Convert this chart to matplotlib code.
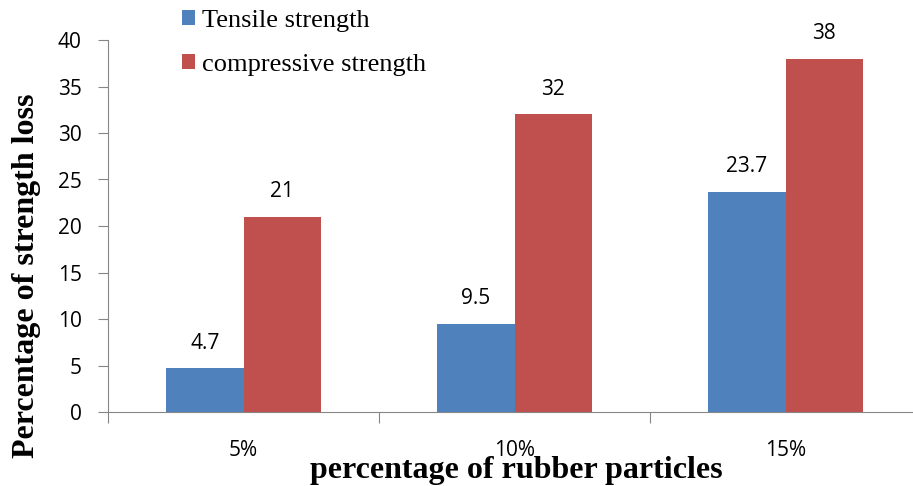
import numpy as np
import matplotlib.pyplot as plt

categories = ['5%', '10%', '15%']
tensile = [4.7, 9.5, 23.7]
compressive = [21, 32, 38]
yticks = [0, 5, 10, 15, 20, 25, 30, 35, 40]

blue, red, grey = '#4F81BD', '#C0504D', '#868686'
num_font = ['Open Sans', 'DejaVu Sans']
serif = ['Liberation Serif', 'DejaVu Serif']

fig = plt.figure(figsize=(9.13, 4.86), dpi=100)
ax = fig.add_axes([108 / 913, 74 / 486, 813 / 913, 372 / 486])

x = np.arange(len(categories))
w = 0.285
b1 = ax.bar(x - w / 2, tensile, w, color=blue, label='Tensile strength')
b2 = ax.bar(x + w / 2, compressive, w, color=red, label='compressive strength')

for bars, vals in ((b1, tensile), (b2, compressive)):
    for r, v in zip(bars, vals):
        ax.annotate(f'{v:g}', (r.get_x() + r.get_width() / 2, v), xytext=(0, 18),
                    textcoords='offset points', ha='center', va='center',
                    fontsize=15, family=num_font)

ax.set_xlim(-0.5, 2.5)
ax.set_ylim(0, 40)
ax.set_yticks(yticks)
ax.set_yticklabels([str(t) for t in yticks], family=num_font, fontsize=15)
ax.tick_params(axis='y', direction='out', length=7, color=grey, pad=12)

# category labels sit between the boundary ticks
ax.set_xticks(np.arange(-0.5, 3, 1))
ax.set_xticklabels([])
ax.set_xticks(x, minor=True)
ax.set_xticklabels(categories, minor=True, family=num_font, fontsize=15)
ax.tick_params(axis='x', which='major', direction='out', length=8, color=grey)
ax.tick_params(axis='x', which='minor', length=0, pad=20)

for s in ('top', 'right'):
    ax.spines[s].set_visible(False)
for s in ('left', 'bottom'):
    ax.spines[s].set_color(grey)

ax.set_ylabel('Percentage of strength loss', family=serif, fontweight='bold',
              fontsize=23)
ax.yaxis.set_label_coords(-0.083, 0.365)
fig.text(516 / 913, 1 / 486, 'percentage of rubber particles', family=serif,
         fontweight='bold', fontsize=23, ha='center', va='bottom')

leg = fig.legend(loc='upper left', bbox_to_anchor=(182 / 913, 1 - 10 / 486), frameon=False,
                 prop={'family': serif, 'size': 19}, handlelength=0.5, handleheight=0.5,
                 handletextpad=0.27, labelspacing=0.82, borderpad=0, borderaxespad=0)

fig.savefig('out.png', dpi=100)
